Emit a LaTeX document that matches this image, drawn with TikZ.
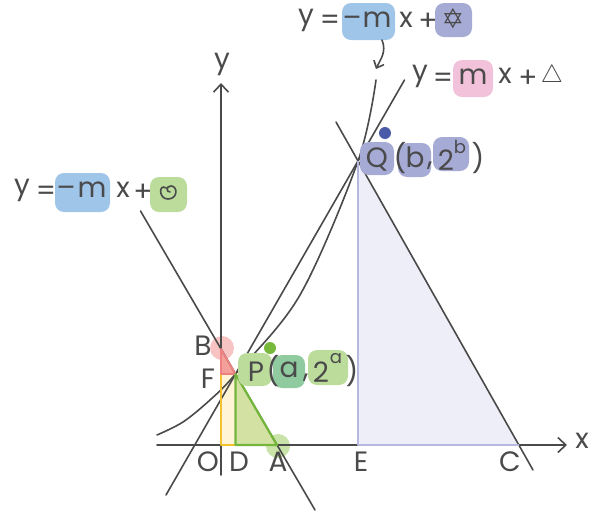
\documentclass[tikz,border=0pt]{standalone}
\usepackage{fontspec}
\setmainfont{Poppins}
\newfontfamily\symfont{DejaVu Sans}
\usetikzlibrary{arrows.meta}
\definecolor{ink}{HTML}{4A4A4A}
\definecolor{hlblue}{HTML}{9FC5E8}
\definecolor{hllav}{HTML}{A6ABD6}
\definecolor{hlpink}{HTML}{F2C1DA}
\definecolor{hlgreen}{HTML}{BCDC9C}
\definecolor{hlgreendk}{HTML}{8FCB9F}
\definecolor{lavfill}{HTML}{EEEEF8}
\definecolor{lavedge}{HTML}{B5B9E0}
\definecolor{yelfill}{HTML}{FFF4D5}
\definecolor{yeledge}{HTML}{F2C12E}
\definecolor{redfill}{HTML}{F4A09A}
\definecolor{rededge}{HTML}{EE8080}
\definecolor{redcirc}{HTML}{F7C3C3}
\definecolor{grnfill}{HTML}{D3E2A3}
\definecolor{grnedge}{HTML}{74B63C}
\definecolor{grncirc}{HTML}{C9E3A8}
\definecolor{grndot}{HTML}{78B83A}
\definecolor{bludot}{HTML}{4A5AA8}
\tikzset{
  lbl/.style={text=ink,inner sep=0pt,font=\fontsize{28}{32}\selectfont},
  sup/.style={text=ink,inner sep=0pt,font=\fontsize{18}{20}\selectfont},
  ln/.style={draw=ink,line width=1.6pt,line cap=round},
  hl/.style={rounded corners=9pt},
  tip/.style={-{Straight Barb[length=8pt,width=15pt,line width=1.6pt]}}
}
\begin{document}
\begin{tikzpicture}[x=1pt,y=-1pt]
\useasboundingbox (0,0) rectangle (590,515);
% key points
\coordinate (O) at (221,445);
\coordinate (D) at (235.5,445);
\coordinate (A) at (277,445);
\coordinate (E) at (358,445);
\coordinate (C) at (519,445);
\coordinate (P) at (235.5,374);
\coordinate (F) at (221,374);
\coordinate (B) at (221,349);
\coordinate (Q) at (358,161);
% line end points
\coordinate (ba1) at (140.5,211);
\coordinate (ba2) at (315,510);
\coordinate (qc1) at (336,122);
\coordinate (qc2) at (533,470);
\coordinate (pq1) at (166,495);
\coordinate (pq2) at (404.5,80);
\coordinate (xl) at (157,445);
\coordinate (xr) at (567,445);
\coordinate (yb) at (221,475);
\coordinate (yt) at (221,83);
% circles and dots
\fill[redcirc] (222,348) circle (12);
\fill[grncirc] (278,446) circle (12);
\fill[grndot] (270,348) circle (6);
\fill[bludot] (385,133) circle (6);
% shape fills
\fill[lavfill] (Q) -- (E) -- (C) -- cycle;
\fill[yelfill] (O) -- (D) -- (P) -- (F) -- cycle;
\fill[redfill] (B) -- (F) -- (P) -- cycle;
\fill[grnfill] (P) -- (D) -- (A) -- cycle;
% axes
\draw[ln,tip] (xl) -- (xr);
\draw[ln,tip] (yb) -- (yt);
% lines
\draw[ln] (ba1) -- (ba2);
\draw[ln] (qc1) -- (qc2);
\draw[ln] (pq1) -- (pq2);
\draw[ln] plot[smooth,tension=0.55] coordinates {(157,435) (183,422) (210,400) (P) (300,295) (Q) (376,80)};
% shape edges
\draw[lavedge,line width=2.8pt,line join=round] (Q) -- (E) -- (C);
\draw[yeledge,line width=2.2pt,line join=round] (F) -- (O) -- (D);
\draw[rededge,line width=1.8pt,line join=round] (B) -- (F) -- (P) -- cycle;
\draw[grnedge,line width=2.2pt,line join=round] (P) -- (D) -- (A) -- cycle;
% axis labels
\node[lbl] (ylab) at (222,64) {y};
\node[lbl] (xlab) at (582,441) {x};
\node[lbl] (lO) at (208,462) {O};
\node[lbl] (lD) at (239,462) {D};
\node[lbl] (lA) at (278,462) {A};
\node[lbl] (lE) at (361,462) {E};
\node[lbl] (lC) at (510,462) {C};
\node[lbl] (lB) at (203,346) {B};
\node[lbl] (lF) at (208,379) {F};
% P label
\fill[hlgreen,hl] (238,353) rectangle (272,386);
\fill[hlgreendk,hl] (273,355) rectangle (305,388);
\fill[hlgreen,hl] (308,350) rectangle (348,385);
\node[lbl] (pP) at (256,372) {P};
\node[lbl] (pl) at (273,371) {(};
\node[lbl] (pa) at (289,370) {a};
\node[lbl] (pc) at (306,378) {,};
\node[lbl] (p2) at (321,372) {2};
\node[sup] (pa2) at (336,359) {a};
\node[lbl] (pr) at (352,371) {)};
% Q label
\fill[hllav,hl] (360,142) rectangle (394,175);
\fill[hllav,hl] (398,143) rectangle (431,177);
\fill[hllav,hl] (433,137) rectangle (469,171);
\node[lbl] (qQ) at (377,159) {Q};
\node[lbl] (ql) at (400,158) {(};
\node[lbl] (qb) at (415,157) {b};
\node[lbl] (qc) at (430,166) {,};
\node[lbl] (q2) at (446,160) {2};
\node[sup] (qb2) at (460,147) {b};
\node[lbl] (qr) at (478,158) {)};
% top label y = -mx + star
\fill[hlblue,hl] (342,3) rectangle (395,40);
\fill[hllav,hl] (435,3) rectangle (472,37);
\node[lbl] (t1) at (306,20) {y};
\node[lbl] (t2) at (330,22) {=};
\node[lbl] (t3) at (352,22) {–};
\node[lbl] (t4) at (377,20) {m};
\node[lbl] (t5) at (406,20) {x};
\node[lbl] (t6) at (428,22) {+};
\node[text=ink,inner sep=0pt,font=\symfont\fontsize{27}{29}\selectfont] (t7) at (453,19) {✡};
\coordinate (ar1) at (382,40);
\coordinate (ar2) at (376,69);
\draw[ln,-{Straight Barb[length=6pt,width=11pt,line width=1.6pt]}] (ar1) .. controls (387,52) and (380,60) .. (ar2);
% y = mx + triangle
\fill[hlpink,hl] (453,60) rectangle (493,97);
\node[lbl] (s1) at (420,76) {y};
\node[lbl] (s2) at (443,80) {=};
\node[lbl] (s3) at (473,77) {m};
\node[lbl] (s4) at (505,76) {x};
\node[lbl] (s5) at (528,79) {+};
\node[text=ink,inner sep=0pt,font=\fontsize{30}{32}\selectfont] (s6) at (552,76) {$\triangle$};
% left label y = -mx + symbol
\fill[hlblue,hl] (55,173) rectangle (110,212);
\fill[hlgreen,hl] (150,177) rectangle (187,212);
\node[lbl] (u1) at (22,190) {y};
\node[lbl] (u2) at (46,193) {=};
\node[lbl] (u3) at (66,192) {–};
\node[lbl] (u4) at (92,190) {m};
\node[lbl] (u5) at (123,190) {x};
\node[lbl] (u6) at (143,193) {+};
\draw[ink,line width=1.6pt,line cap=round] (166,188) .. controls (159,183) and (158,199) .. (168,199) .. controls (178,199) and (178,186) .. (171,186) .. controls (166,186) and (166,192) .. (170,192);
\end{tikzpicture}
\end{document}
